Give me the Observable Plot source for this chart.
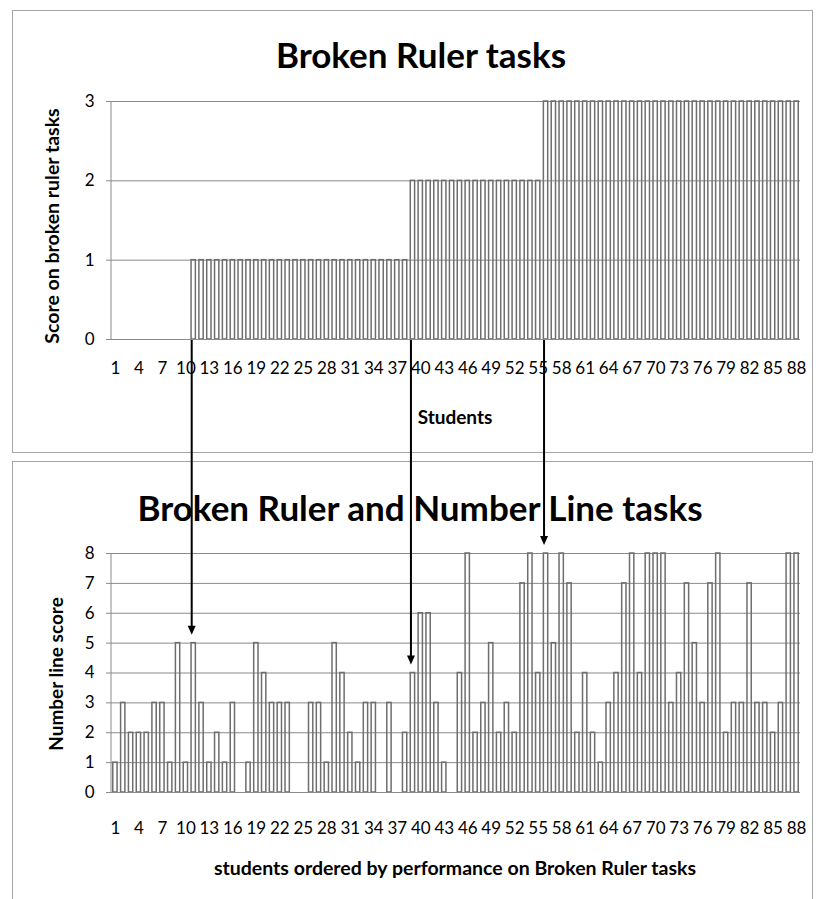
<!DOCTYPE html>
<html>
<head>
<meta charset="utf-8">
<script src="https://cdn.jsdelivr.net/npm/d3@7"></script>
<script src="https://cdn.jsdelivr.net/npm/@observablehq/plot@0.6"></script>
<style>
  body { margin: 0; background: #fff; }
  #page { position: relative; width: 816px; height: 899px; overflow: hidden; font-family: Lato, "Open Sans", sans-serif; color: #000; }
  .chart { position: absolute; left: 0; }
  .t { position: absolute; transform: translate(-50%, -50%); white-space: nowrap; font-weight: bold; color: #000; line-height: 1; }
  .rot { transform: translate(-50%, -50%) rotate(-90deg); }
  .panel { position: absolute; border: 1px solid #a6a6a6; box-sizing: border-box; }
  #overlay { position: absolute; left: 0; top: 0; pointer-events: none; }
</style>
</head>
<body>
<div id="page">
  <div class="panel" style="left:12px;top:10px;width:801px;height:443px;"></div>
  <div class="panel" style="left:12px;top:461px;width:801px;height:460px;"></div>
</div>
<script>
// ---- Data ----
const students = d3.range(1, 89);
const brokenRulerScores = [
  0,0,0,0,0,0,0,0,0,0,
  1,1,1,1,1,1,1,1,1,1,
  1,1,1,1,1,1,1,1,1,1,
  1,1,1,1,1,1,1,1,
  2,2,2,2,2,2,2,2,2,2,
  2,2,2,2,2,2,2,
  3,3,3,3,3,3,3,3,3,3,
  3,3,3,3,3,3,3,3,3,3,
  3,3,3,3,3,3,3,3,3,3,
  3,3,3
];
const numberLineScores = [
  1,3,2,2,2,3,3,1,5,1,
  5,3,1,2,1,3,0,1,5,4,
  3,3,3,0,0,3,3,1,5,4,
  2,1,3,3,0,3,0,2,4,6,
  6,3,1,0,4,8,2,3,5,2,
  3,2,7,8,4,8,5,8,7,2,
  4,2,1,3,4,7,8,4,8,8,
  8,3,4,7,5,3,7,8,2,3,
  3,7,3,3,2,3,8,8
];
const xTickLabels = [1,4,7,10,13,16,19,22,25,28,31,34,37,40,43,46,49,52,55,58,61,64,67,70,73,76,79,82,85,88];
const topYTicks = [0, 1, 2, 3];
const bottomYTicks = [0, 1, 2, 3, 4, 5, 6, 7, 8];
const arrowStudents = [11, 39, 56];

const topTitle = "Broken Ruler tasks";
const topYLabel = "Score on broken ruler tasks";
const topXLabel = "Students";
const bottomTitle = "Broken Ruler and Number Line tasks";
const bottomYLabel = "Number line score";
const bottomXLabel = "students ordered by performance on Broken Ruler tasks";

// ---- Styles ----
const gridColor = "#8a8a8a";
const barColor = "#6e6e6e";
const FONT = "Lato, 'Open Sans', sans-serif";

function leftAxisLine(color) {
  return (index, scales, values, dims) => {
    const l = d3.create("svg:line")
      .attr("x1", dims.marginLeft).attr("x2", dims.marginLeft)
      .attr("y1", dims.marginTop).attr("y2", dims.height - dims.marginBottom)
      .attr("stroke", color).attr("stroke-width", 1);
    return l.node();
  };
}

function makeChart(values, yTicks, height, marginTop, marginBottom, xPad) {
  const data = students.map((s, i) => ({student: s, score: values[i]}));
  return Plot.plot({
    width: 816,
    height,
    marginLeft: 111,
    marginRight: 16,
    marginTop,
    marginBottom,
    style: {fontFamily: FONT, fontSize: "17px", color: "#000", background: "transparent", overflow: "visible"},
    x: {type: "band", domain: students, paddingInner: 0.45, paddingOuter: 0.225, align: 0.5},
    y: {domain: [yTicks[0], yTicks[yTicks.length - 1]]},
    marks: [
      Plot.ruleY(yTicks.slice(1), {stroke: gridColor, strokeWidth: 1}),
      Plot.barY(data.filter(d => d.score > 0), {x: "student", y: "score", fill: "none", stroke: barColor, strokeWidth: 1.5}),
      Plot.ruleY([yTicks[0]], {stroke: gridColor, strokeWidth: 1}),
      leftAxisLine(gridColor),
      Plot.axisY({ticks: yTicks, tickSize: 5, tickPadding: 12, label: null, stroke: gridColor, tickFormat: d => String(d), fontSize: 17}),
      Plot.axisX({ticks: xTickLabels, tickSize: 0, tickPadding: xPad, label: null, tickFormat: d => String(d), fontSize: 17})
    ]
  });
}

const page = document.getElementById("page");

const topPlot = makeChart(brokenRulerScores, topYTicks, 452, 101, 113, 22);
topPlot.classList.add("chart");
topPlot.style.top = "0px";
page.appendChild(topPlot);

const bottomTop = 452;
const bottomPlot = makeChart(numberLineScores, bottomYTicks, 447, 101, 107, 29);
bottomPlot.classList.add("chart");
bottomPlot.style.top = bottomTop + "px";
page.appendChild(bottomPlot);

// ---- Text ----
function addText(txt, x, y, size, rotate) {
  const d = document.createElement("div");
  d.className = "t" + (rotate ? " rot" : "");
  d.style.left = x + "px";
  d.style.top = y + "px";
  d.style.fontSize = size + "px";
  d.textContent = txt;
  page.appendChild(d);
}
addText(topTitle, 421, 54, 35, false);
addText(topYLabel, 52, 226, 19.5, true);
addText(topXLabel, 455, 416, 19, false);
addText(bottomTitle, 420, 507, 35, false);
addText(bottomYLabel, 55, 674, 19, true);
addText(bottomXLabel, 455, 868, 19.5, false);

// ---- Arrows (positions from the plots' own scales) ----
const xs = topPlot.scale("x");
const yTopScale = topPlot.scale("y");
const yBotScale = bottomPlot.scale("y");
const overlay = d3.select(page).append("svg")
  .attr("id", "overlay").attr("width", 816).attr("height", 899);
arrowStudents.forEach(s => {
  const x = xs.apply(s) + xs.bandwidth / 2 - 1.5;
  const y0 = yTopScale.apply(0) + 1;
  const yTip = bottomTop + yBotScale.apply(numberLineScores[s - 1]) - 8;
  overlay.append("line")
    .attr("x1", x).attr("x2", x).attr("y1", y0).attr("y2", yTip - 7)
    .attr("stroke", "#000").attr("stroke-width", 2);
  overlay.append("path")
    .attr("d", `M${x - 4},${yTip - 9}L${x + 4},${yTip - 9}L${x},${yTip}Z`)
    .attr("fill", "#000");
});
</script>
</body>
</html>
